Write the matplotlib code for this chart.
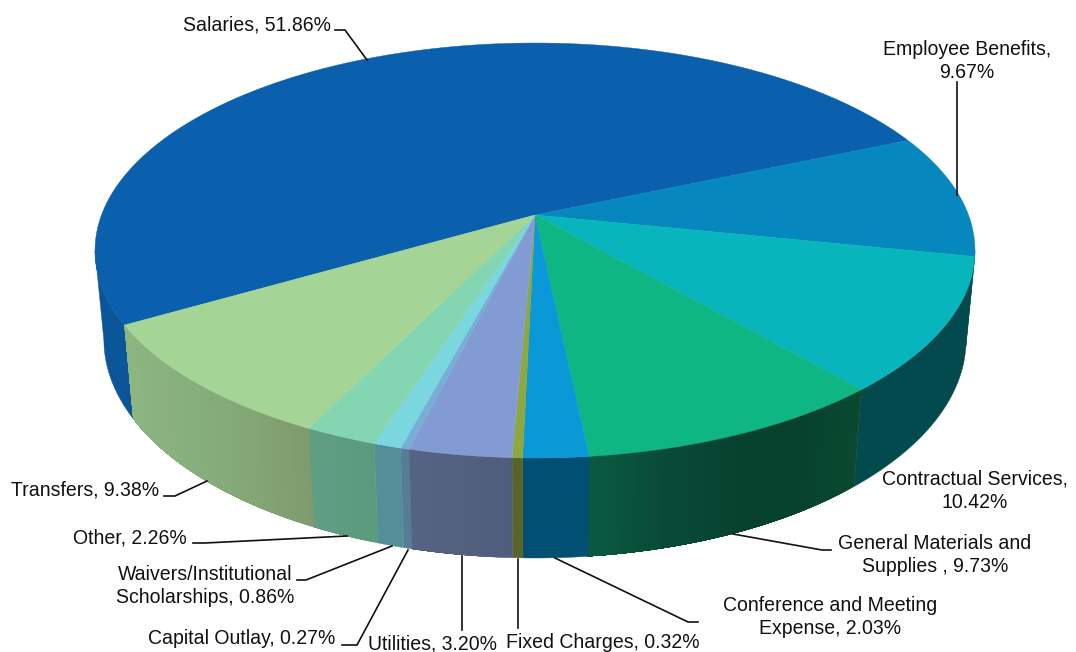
import numpy as np
import matplotlib
matplotlib.use("Agg")
import matplotlib.pyplot as plt
from matplotlib.colors import LinearSegmentedColormap

# ---- data ----
categories = ["Salaries", "Employee Benefits", "Contractual Services",
              "General Materials and Supplies ", "Conference and Meeting Expense",
              "Fixed Charges", "Utilities", "Capital Outlay",
              "Waivers/Institutional Scholarships", "Other", "Transfers"]
values = [51.86, 9.67, 10.42, 9.73, 2.03, 0.32, 3.20, 0.27, 0.86, 2.26, 9.38]

# ---- styles ----
top_colors = ["#0a60ac", "#0687bd", "#08b5bc", "#0fb582", "#0a99d6", "#8da83c",
              "#829bd3", "#78aed8", "#7ad7e0", "#84d6b2", "#a5d596"]
# side colours, in the clockwise direction of each slice
side_colors = [["#0a5698", "#0a5698"], ["#03627f", "#03627f"], ["#024a4e", "#024a4e"],
               ["#0a4a30", "#07422f", "#07422f", "#084a36", "#0b5a42"], ["#015073", "#015073"],
               ["#5a6426", "#5a6426"], ["#505c7b", "#566382"], ["#567c96", "#567c96"],
               ["#548f99", "#548f99"], ["#5b9a7c", "#5f9e85"],
               ["#7f9b6d", "#84a676", "#86ad7c", "#8ab17f", "#8cb682"]]
label_texts = ["Salaries, 51.86%", "Employee Benefits,\n9.67%", "Contractual Services,\n10.42%",
               "General Materials and\nSupplies , 9.73%", "Conference and Meeting\nExpense, 2.03%",
               "Fixed Charges, 0.32%", "Utilities, 3.20%", "Capital Outlay, 0.27%",
               "Waivers/Institutional\nScholarships, 0.86%", "Other, 2.26%", "Transfers, 9.38%"]
label_pos = [(257, 25), (967, 61), (975, 491), (935, 555), (830, 617), (603, 642),
             (432, 643.5), (242, 639), (205, 586), (130, 538), (85, 490)]
leaders = [[(335, 30), (345, 30), (367, 60)],
           [(957, 82), (957, 195)],
           None,
           [(733, 534), (822, 550), (831, 550)],
           [(555, 558), (688, 622), (698, 622)],
           [(517.5, 559), (517.5, 628)],
           [(462, 556), (462, 630)],
           [(408, 550), (357, 645), (342, 645)],
           [(392, 546), (306, 580), (297, 580)],
           [(347, 536), (205, 543), (193, 543)],
           [(207, 481), (175, 496), (164, 496)]]

# ---- perspective model of the pie, in figure pixels ----
CX, CY = 535.0, 215.0
A, B = 433.5, 201.4
K = 0.171
T, C = 0.02, 89.8
END_FIRST = -23.3  # angle where the first slice ends, clockwise on screen
SILHOUETTE = np.degrees(np.arcsin(K))


def project(theta_deg, lower=False):
    t = np.radians(theta_deg)
    X, Y = np.cos(t), np.sin(t)
    w = 1 - K * Y
    if lower:
        return CX + A * X / (w + T), CY + (B * Y + C) / (w + T)
    return CX + A * X / w, CY + B * Y / w


fig = plt.figure(figsize=(10.76, 6.52), dpi=100)
ax = fig.add_axes([0, 0, 1, 1])
ax.set_xlim(0, 1076)
ax.set_ylim(652, 0)
ax.axis("off")
plt.rcParams["font.family"] = ["Liberation Sans", "DejaVu Sans"]

shares = np.array(values) / np.sum(values) * 360.0
start = END_FIRST - shares[0]
edges = start + np.concatenate([[0], np.cumsum(shares)])

# sides: only the part of each slice between the two silhouette angles faces the viewer
for i in range(len(values)):
    for shift in (0, -360):
        lo = max(edges[i], SILHOUETTE + shift)
        hi = min(edges[i + 1], 180 - SILHOUETTE + shift)
        if hi <= lo:
            continue
        fine = np.linspace(lo, hi, max(int((hi - lo) * 2), 4) + 1)
        uniform = side_colors[i][0] == side_colors[i][-1]
        n = 1 if uniform else max(int((hi - lo) / 0.75), 1)
        cmap = LinearSegmentedColormap.from_list("s", side_colors[i])
        for j in range(n):
            # shrinking bands so no background shows between the gradient steps
            th = fine[int(j * (len(fine) - 1) / n):]
            xt, yt = project(th)
            xb, yb = project(th, True)
            col = cmap((j + 0.5) / n)
            ax.fill(np.r_[xt, xb[::-1]], np.r_[yt, yb[::-1]], facecolor=col,
                    edgecolor=col if j == 0 else "none", lw=0.3, zorder=2 + i * 0.01)

# top face
for i in range(len(values)):
    th = np.linspace(edges[i], edges[i + 1], max(int(shares[i] * 2), 4))
    xs, ys = project(th)
    ax.fill(np.r_[CX, xs], np.r_[CY, ys], facecolor=top_colors[i], edgecolor=top_colors[i],
            lw=0.3, zorder=3)

# leader lines and labels
for pts in leaders:
    if pts is not None:
        ax.plot(*zip(*pts), color="#111111", lw=1.2, zorder=4, solid_joinstyle="miter")
for txt, (x, y) in zip(label_texts, label_pos):
    ax.text(x, y, txt, ha="center", va="center", fontsize=14.05, color="#111111",
            family=["Liberation Sans", "DejaVu Sans"], linespacing=1.3, zorder=5)

fig.savefig("out.png", dpi=100, facecolor="white")
